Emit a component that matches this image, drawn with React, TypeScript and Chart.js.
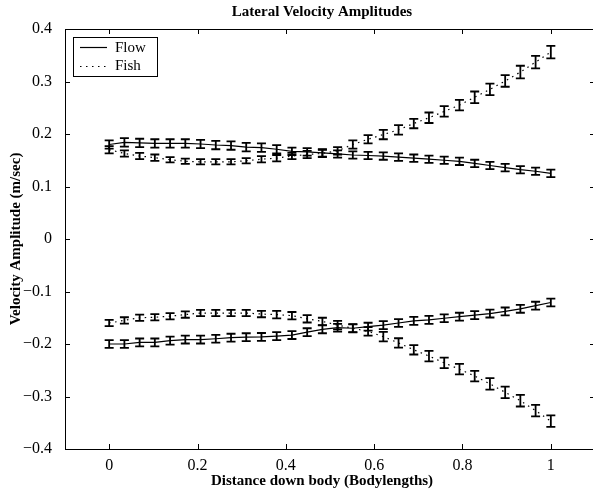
import React, { useEffect, useRef } from "react";
import { Chart, registerables } from "chart.js";

Chart.register(...registerables);

// ---- data ----
const xPositions = [
  0, 0.0345, 0.069, 0.1034, 0.1379, 0.1724, 0.2069, 0.2414, 0.2759, 0.3103,
  0.3448, 0.3793, 0.4138, 0.4483, 0.4828, 0.5172, 0.5517, 0.5862, 0.6207, 0.6552,
  0.6897, 0.7241, 0.7586, 0.7931, 0.8276, 0.8621, 0.8966, 0.931, 0.9655, 1,
];

const flowUpper = [
  0.18, 0.184, 0.183, 0.182, 0.182, 0.182, 0.181, 0.179, 0.178, 0.175,
  0.174, 0.171, 0.167, 0.166, 0.164, 0.162, 0.16, 0.159, 0.158, 0.156,
  0.154, 0.152, 0.15, 0.148, 0.144, 0.14, 0.136, 0.132, 0.129, 0.125,
];
const flowUpperErr = [
  0.008, 0.008, 0.008, 0.008, 0.008, 0.008, 0.008, 0.008, 0.008, 0.008,
  0.008, 0.008, 0.007, 0.007, 0.007, 0.007, 0.007, 0.007, 0.007, 0.007,
  0.007, 0.007, 0.007, 0.007, 0.007, 0.007, 0.007, 0.007, 0.007, 0.007,
];

const fishUpper = [
  0.17, 0.163, 0.158, 0.155, 0.151, 0.148, 0.147, 0.147, 0.147, 0.149,
  0.152, 0.154, 0.158, 0.161, 0.163, 0.168, 0.18, 0.19, 0.199, 0.208,
  0.22, 0.231, 0.243, 0.255, 0.27, 0.285, 0.301, 0.318, 0.337, 0.356,
];
const fishUpperErr = [
  0.007, 0.006, 0.006, 0.006, 0.005, 0.005, 0.005, 0.005, 0.005, 0.005,
  0.006, 0.006, 0.006, 0.007, 0.007, 0.007, 0.008, 0.008, 0.009, 0.009,
  0.009, 0.01, 0.01, 0.01, 0.011, 0.011, 0.011, 0.012, 0.012, 0.012,
];

const flowLower = [
  -0.2, -0.2, -0.197, -0.197, -0.1935, -0.1915, -0.1915, -0.19, -0.188, -0.187,
  -0.1865, -0.185, -0.183, -0.1775, -0.172, -0.169, -0.17, -0.167, -0.164, -0.16,
  -0.156, -0.154, -0.151, -0.148, -0.145, -0.142, -0.138, -0.133, -0.127, -0.121,
];
const flowLowerErr = [
  0.0075, 0.0075, 0.0075, 0.0075, 0.0075, 0.0075, 0.0075, 0.0075, 0.0075, 0.0075,
  0.0075, 0.0075, 0.0075, 0.0075, 0.0075, 0.0075, 0.0075, 0.0075, 0.0075, 0.0075,
  0.0075, 0.0075, 0.0075, 0.0075, 0.0075, 0.0075, 0.0075, 0.0075, 0.0075, 0.0075,
];

const fishLower = [
  -0.16, -0.155, -0.15, -0.149, -0.147, -0.144, -0.141, -0.141, -0.141, -0.141,
  -0.143, -0.144, -0.146, -0.152, -0.157, -0.164, -0.17, -0.176, -0.186, -0.198,
  -0.211, -0.223, -0.236, -0.248, -0.261, -0.276, -0.292, -0.308, -0.327, -0.347,
];
const fishLowerErr = [
  0.006, 0.006, 0.006, 0.006, 0.006, 0.006, 0.006, 0.006, 0.006, 0.006,
  0.006, 0.007, 0.007, 0.007, 0.007, 0.008, 0.008, 0.008, 0.009, 0.009,
  0.009, 0.01, 0.01, 0.01, 0.01, 0.011, 0.011, 0.011, 0.011, 0.011,
];

const xTickValues = [0, 0.2, 0.4, 0.6, 0.8, 1];
const yTickValues = [-0.4, -0.3, -0.2, -0.1, 0, 0.1, 0.2, 0.3, 0.4];
const legendLabels = ["Flow", "Fish"];
const chartTitle = "Lateral Velocity Amplitudes";
const xAxisTitle = "Distance down body (Bodylengths)";
const yAxisTitle = "Velocity Amplitude (m/sec)";

// ---- styling ----
const FONT = "'Liberation Serif', 'Times New Roman', serif";
const SOLID: number[] = [];
const DOTTED = [1.5, 4.5];

function fmtTick(v: number): string {
  if (Math.abs(v) < 1e-9) return "0";
  const s = Number(Math.abs(v).toFixed(1)).toString();
  return v < 0 ? "\u2212" + s : s;
}

function makeSeries(values: number[]) {
  return xPositions.map((x, i) => ({ x, y: values[i] }));
}

const errorBarPlugin = {
  id: "errorBars",
  afterDatasetsDraw(chart: any) {
    const ctx = chart.ctx;
    const xs = chart.scales.x;
    const ys = chart.scales.y;
    ctx.save();
    ctx.strokeStyle = "#000";
    ctx.lineWidth = 1.8;
    ctx.setLineDash([]);
    chart.data.datasets.forEach((ds: any) => {
      const errs: number[] = ds.errors;
      ds.data.forEach((p: any, i: number) => {
        const px = xs.getPixelForValue(p.x);
        const yt = ys.getPixelForValue(p.y + errs[i]);
        const yb = ys.getPixelForValue(p.y - errs[i]);
        ctx.beginPath();
        ctx.moveTo(px, yt);
        ctx.lineTo(px, yb);
        ctx.moveTo(px - 4.5, yt);
        ctx.lineTo(px + 4.5, yt);
        ctx.moveTo(px - 4.5, yb);
        ctx.lineTo(px + 4.5, yb);
        ctx.stroke();
      });
    });
    ctx.restore();
  },
};

const framePlugin = {
  id: "frame",
  afterDraw(chart: any) {
    const ctx = chart.ctx;
    const { left, right, top, bottom } = chart.chartArea;
    const xs = chart.scales.x;
    const ys = chart.scales.y;
    ctx.save();
    ctx.strokeStyle = "#000";
    ctx.lineWidth = 1;
    ctx.setLineDash([]);
    ctx.strokeRect(Math.round(left) + 0.5, Math.round(top) + 0.5, Math.round(right - left), Math.round(bottom - top));
    const tl = 5;
    ctx.beginPath();
    xTickValues.forEach((v) => {
      const px = Math.round(xs.getPixelForValue(v)) + 0.5;
      ctx.moveTo(px, bottom);
      ctx.lineTo(px, bottom - tl);
      ctx.moveTo(px, top);
      ctx.lineTo(px, top + tl);
    });
    yTickValues.forEach((v) => {
      const py = Math.round(ys.getPixelForValue(v)) + 0.5;
      ctx.moveTo(left, py);
      ctx.lineTo(left + tl, py);
      ctx.moveTo(right, py);
      ctx.lineTo(right - tl, py);
    });
    ctx.stroke();

    // titles
    ctx.fillStyle = "#000";
    ctx.textAlign = "center";
    ctx.textBaseline = "middle";
    ctx.font = "bold 15px " + FONT;
    ctx.fillText(chartTitle, 322, 12);
    ctx.fillText(xAxisTitle, 322, 481);

    // legend
    const lx = 73.5, ly = 37.5, lw = 84, lh = 39;
    ctx.fillStyle = "#fff";
    ctx.fillRect(lx, ly, lw, lh);
    ctx.strokeRect(lx, ly, lw, lh);
    ctx.lineWidth = 1.2;
    ctx.beginPath();
    ctx.moveTo(80, 47.5);
    ctx.lineTo(107, 47.5);
    ctx.stroke();
    ctx.setLineDash(DOTTED);
    ctx.beginPath();
    ctx.moveTo(80, 66.5);
    ctx.lineTo(107, 66.5);
    ctx.stroke();
    ctx.setLineDash([]);
    ctx.fillStyle = "#000";
    ctx.textAlign = "left";
    ctx.font = "15px " + FONT;
    ctx.fillText(legendLabels[0], 115, 48);
    ctx.fillText(legendLabels[1], 115, 66);
    ctx.restore();
  },
};

export default function App() {
  const canvasRef = useRef<HTMLCanvasElement | null>(null);

  useEffect(() => {
    if (!canvasRef.current) return;
    Chart.defaults.font.family = FONT;
    Chart.defaults.color = "#000";
    const lineDs = (label: string, values: number[], errors: number[], dash: number[]) => ({
      label,
      data: makeSeries(values),
      errors,
      showLine: true,
      borderColor: "#000",
      backgroundColor: "#000",
      borderWidth: 1.2,
      borderDash: dash,
      pointRadius: 0,
      tension: 0,
    });
    const chart = new Chart(canvasRef.current, {
      type: "scatter",
      data: {
        datasets: [
          lineDs(legendLabels[0], flowUpper, flowUpperErr, SOLID),
          lineDs(legendLabels[1], fishUpper, fishUpperErr, DOTTED),
          lineDs(legendLabels[0], flowLower, flowLowerErr, SOLID),
          lineDs(legendLabels[1], fishLower, fishLowerErr, DOTTED),
        ] as any,
      },
      options: {
        animation: false,
        responsive: false,
        layout: { padding: { left: 0, top: 29, right: 5, bottom: 0 } },
        plugins: {
          legend: { display: false },
          title: { display: false },
          tooltip: { enabled: false },
        },
        scales: {
          x: {
            type: "linear",
            min: -0.1,
            max: 1.1,
            grid: { display: false },
            border: { display: false },
            afterBuildTicks: (scale: any) => {
              scale.ticks = xTickValues.map((v) => ({ value: v }));
            },
            afterFit: (scale: any) => {
              scale.height = 43;
            },
            ticks: {
              padding: -1,
              maxRotation: 0,
              autoSkip: false,
              font: { size: 16, family: FONT },
              color: "#000",
              callback: (v: any) => fmtTick(Number(v)),
            },
          },
          y: {
            type: "linear",
            min: -0.4,
            max: 0.4,
            grid: { display: false },
            border: { display: false },
            afterBuildTicks: (scale: any) => {
              scale.ticks = yTickValues.map((v) => ({ value: v }));
            },
            afterFit: (scale: any) => {
              scale.width = 65;
            },
            title: {
              display: true,
              text: yAxisTitle,
              font: { size: 15, weight: "bold", family: FONT },
              color: "#000",
              padding: { top: 7, bottom: 0 },
            },
            ticks: {
              padding: 5,
              autoSkip: false,
              font: { size: 16, family: FONT },
              color: "#000",
              callback: (v: any) => fmtTick(Number(v)),
            },
          },
        },
      } as any,
      plugins: [errorBarPlugin, framePlugin],
    });
    return () => chart.destroy();
  }, []);

  return (
    <div style={{ position: "fixed", left: 0, top: 0, width: 593, height: 492, overflow: "hidden", background: "#fff" }}>
      <canvas ref={canvasRef} width={600} height={492} style={{ display: "block" }} />
    </div>
  );
}
